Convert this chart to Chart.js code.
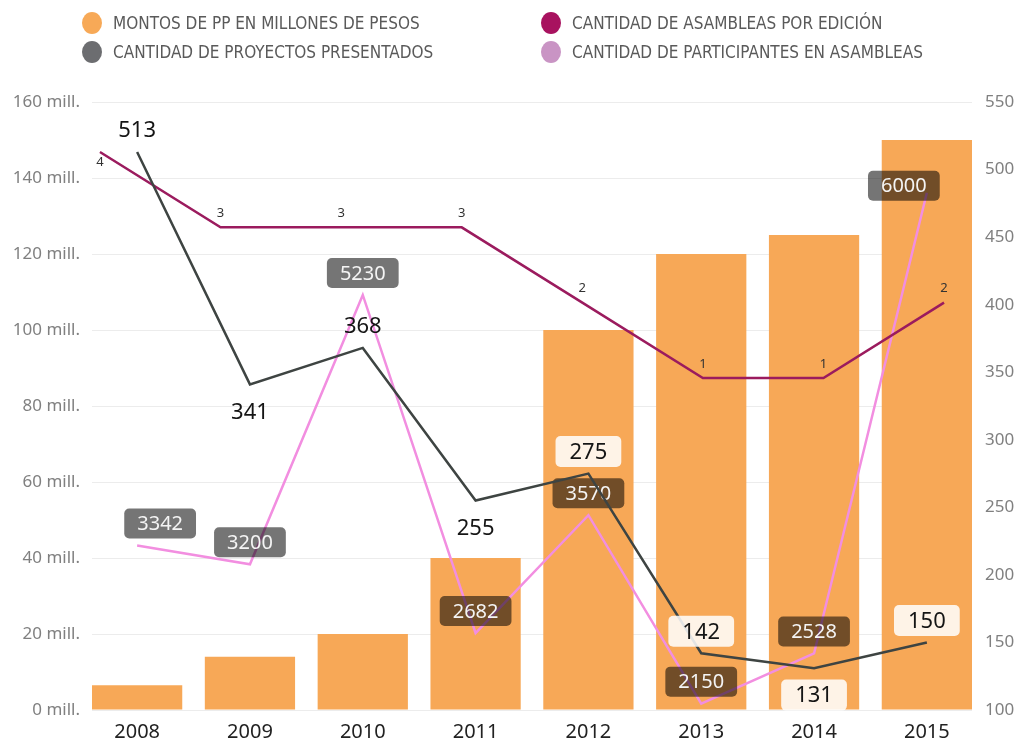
<!DOCTYPE html>
<html>
<head>
<meta charset="utf-8">
<script src="https://cdn.jsdelivr.net/npm/chart.js@4.4.1/dist/chart.umd.min.js"></script>
<style>
html,body{margin:0;padding:0;background:#fff;}
#wrap{position:relative;width:1019px;height:738px;overflow:hidden;}
canvas{position:absolute;left:0;top:0;}
#legend{position:absolute;left:0;top:0;width:1019px;height:80px;}
.li{position:absolute;display:flex;align-items:center;height:26px;}
.dot{width:20px;height:22px;border-radius:50%;margin-right:11px;flex:none;}
.lt{font-family:'DejaVu Sans Condensed','Liberation Sans Narrow','Roboto',sans-serif;font-size:17px;color:#5a5a5a;white-space:nowrap;}
</style>
</head>
<body>
<div id="wrap">
  <canvas id="c" width="1019" height="738"></canvas>
  <div id="legend"></div>
</div>
<script>
// ---- data ----
const years = ['2008','2009','2010','2011','2012','2013','2014','2015'];
const montos = [6.5, 14, 20, 40, 100, 120, 125, 150];            // millones de pesos
const proyectos = [513, 341, 368, 255, 275, 142, 131, 150];
const asambleas = [4, 3, 3, 3, 2, 1, 1, 2];
const participantes = [3342, 3200, 5230, 2682, 3570, 2150, 2528, 6000];
const leftTicks = {min: 0, max: 160, step: 20};
const rightTicks = {min: 100, max: 550, step: 50};
const seriesNames = {
  montos: 'MONTOS DE PP EN MILLONES DE PESOS',
  asambleas: 'CANTIDAD DE ASAMBLEAS POR EDICIÓN',
  proyectos: 'CANTIDAD DE PROYECTOS PRESENTADOS',
  participantes: 'CANTIDAD DE PARTICIPANTES EN ASAMBLEAS'
};

// ---- styles ----
const colors = {
  bar: '#F7A857',
  proyectosLine: '#3E4442',
  asambleasLine: '#9B1B5E',
  participantesLine: '#F28EE0',
  legend: {montos: '#F7A957', asambleas: '#A8125F', proyectos: '#6C6D70', participantes: '#C994C4'}
};

function roundRect(ctx, x, y, w, h, r) {
  ctx.beginPath();
  ctx.moveTo(x + r, y);
  ctx.arcTo(x + w, y, x + w, y + h, r);
  ctx.arcTo(x + w, y + h, x, y + h, r);
  ctx.arcTo(x, y + h, x, y, r);
  ctx.arcTo(x, y, x + w, y, r);
  ctx.closePath();
}

const labelStyles = {
  proyectos: {
    font: '22px "Noto Sans", "Open Sans", sans-serif', color: '#151515',
    bg: 'rgba(255,255,255,0.86)', padX: 14, boxH: 31, radius: 5,
    offset: (i, d) => {
      const prev = i > 0 ? d[i - 1] : Infinity, next = i < d.length - 1 ? d[i + 1] : Infinity;
      return [0, (d[i] < prev && d[i] < next) ? 27 : -22];
    }
  },
  participantes: {
    font: '20px "Noto Sans", "Open Sans", sans-serif', color: '#f4f4f4',
    bg: 'rgba(0,0,0,0.54)', bgAlways: true, padX: 13, boxH: 30, radius: 5,
    offset: (i, d) => i === 0 ? [23, -22] : (i === d.length - 1 ? [-23, -7] : [0, -22])
  },
  asambleas: {
    font: '13px "Noto Sans", "Open Sans", sans-serif', color: '#333',
    offset: (i, d) => i === 0 ? [0, 9] : [0, -15]
  }
};

function overBar(chart, cx, cy) {
  const barMeta = chart.getDatasetMeta(0);
  return barMeta.data.some(b => Math.abs(cx - b.x) < b.width / 2 && cy > b.y);
}

const labelPlugin = {
  id: 'valueLabels',
  afterDatasetDraw(chart, args) {
    const ds = chart.data.datasets[args.index];
    const st = labelStyles[ds.key];
    if (!st) return;
    const ctx = chart.ctx;
    ctx.save();
    ctx.font = st.font;
    ctx.textAlign = 'center';
    ctx.textBaseline = 'middle';
    args.meta.data.forEach((el, i) => {
      const txt = String(ds.data[i]);
      const [dx, dy] = st.offset(i, ds.data);
      const cx = el.x + dx, cy = el.y + dy;
      if (st.bg && (st.bgAlways || overBar(chart, cx, cy))) {
        const w = ctx.measureText(txt).width + 2 * st.padX;
        roundRect(ctx, cx - w / 2, cy - st.boxH / 2, w, st.boxH, st.radius);
        ctx.fillStyle = st.bg;
        ctx.fill();
      }
      ctx.fillStyle = st.color;
      ctx.fillText(txt, cx, cy + 1);
    });
    ctx.restore();
  }
};

const tickFont = {family: '"Noto Sans", "Open Sans", sans-serif', size: 17};

const chart = new Chart(document.getElementById('c'), {
  data: {
    labels: years,
    datasets: [
      {type: 'bar', key: 'montos', label: seriesNames.montos, data: montos,
       backgroundColor: colors.bar, xAxisID: 'x', yAxisID: 'y', grouped: false,
       barPercentage: 1, categoryPercentage: 0.8, order: 4},
      {type: 'line', key: 'participantes', label: seriesNames.participantes, data: participantes,
       borderColor: colors.participantesLine, borderWidth: 2.5, pointRadius: 0, tension: 0, fill: false,
       xAxisID: 'x', yAxisID: 'yP', order: 3},
      {type: 'line', key: 'asambleas', label: seriesNames.asambleas, data: asambleas,
       borderColor: colors.asambleasLine, borderWidth: 2.5, pointRadius: 0, tension: 0, fill: false,
       xAxisID: 'xA', yAxisID: 'yA', order: 2},
      {type: 'line', key: 'proyectos', label: seriesNames.proyectos, data: proyectos,
       borderColor: colors.proyectosLine, borderWidth: 2.5, pointRadius: 0, tension: 0, fill: false,
       xAxisID: 'x', yAxisID: 'y1', order: 1}
    ]
  },
  options: {
    responsive: false,
    animation: false,
    devicePixelRatio: 1,
    layout: {padding: {top: 102, left: 0, right: 0, bottom: 0}},
    plugins: {legend: {display: false}, tooltip: {enabled: false}},
    scales: {
      x: {
        type: 'linear', position: 'bottom', min: 2007.6, max: 2015.4, offset: false,
        grid: {display: false, offset: false}, border: {display: false},
        ticks: {stepSize: 1, includeBounds: false, color: '#222', padding: 2,
                font: {family: tickFont.family, size: 20}, callback: v => String(v)},
        afterFit: s => { s.height = 28; }
      },
      xA: {type: 'linear', display: false, offset: false, min: 2007.934, max: 2015.232},
      y: {
        position: 'left', min: leftTicks.min, max: leftTicks.max,
        grid: {color: '#ececec', drawTicks: false, lineWidth: 1}, border: {display: false},
        ticks: {stepSize: leftTicks.step, color: '#808080', padding: 12, font: tickFont,
                callback: v => v + ' mill.'},
        afterFit: s => { s.width = 92; }
      },
      y1: {
        position: 'right', min: rightTicks.min, max: rightTicks.max,
        grid: {display: false, drawTicks: false}, border: {display: false},
        ticks: {stepSize: rightTicks.step, color: '#808080', padding: 13, font: tickFont},
        afterFit: s => { s.width = 47; }
      },
      yP: {display: false, min: 2102, max: 6684},
      yA: {display: false, min: -3.407, max: 4.664}
    }
  },
  plugins: [labelPlugin]
});

// ---- HTML legend built from datasets ----
const legendOrder = ['montos', 'asambleas', 'proyectos', 'participantes'];
const legendPos = {montos: [82, 10], asambleas: [541, 10], proyectos: [82, 39], participantes: [541, 39]};
const legendEl = document.getElementById('legend');
legendOrder.forEach(k => {
  const ds = chart.data.datasets.find(d => d.key === k);
  const item = document.createElement('div');
  item.className = 'li';
  item.style.left = legendPos[k][0] + 'px';
  item.style.top = legendPos[k][1] + 'px';
  const dot = document.createElement('span');
  dot.className = 'dot';
  dot.style.background = colors.legend[k];
  const t = document.createElement('span');
  t.className = 'lt';
  t.textContent = ds.label;
  item.appendChild(dot);
  item.appendChild(t);
  legendEl.appendChild(item);
});
</script>
</body>
</html>
